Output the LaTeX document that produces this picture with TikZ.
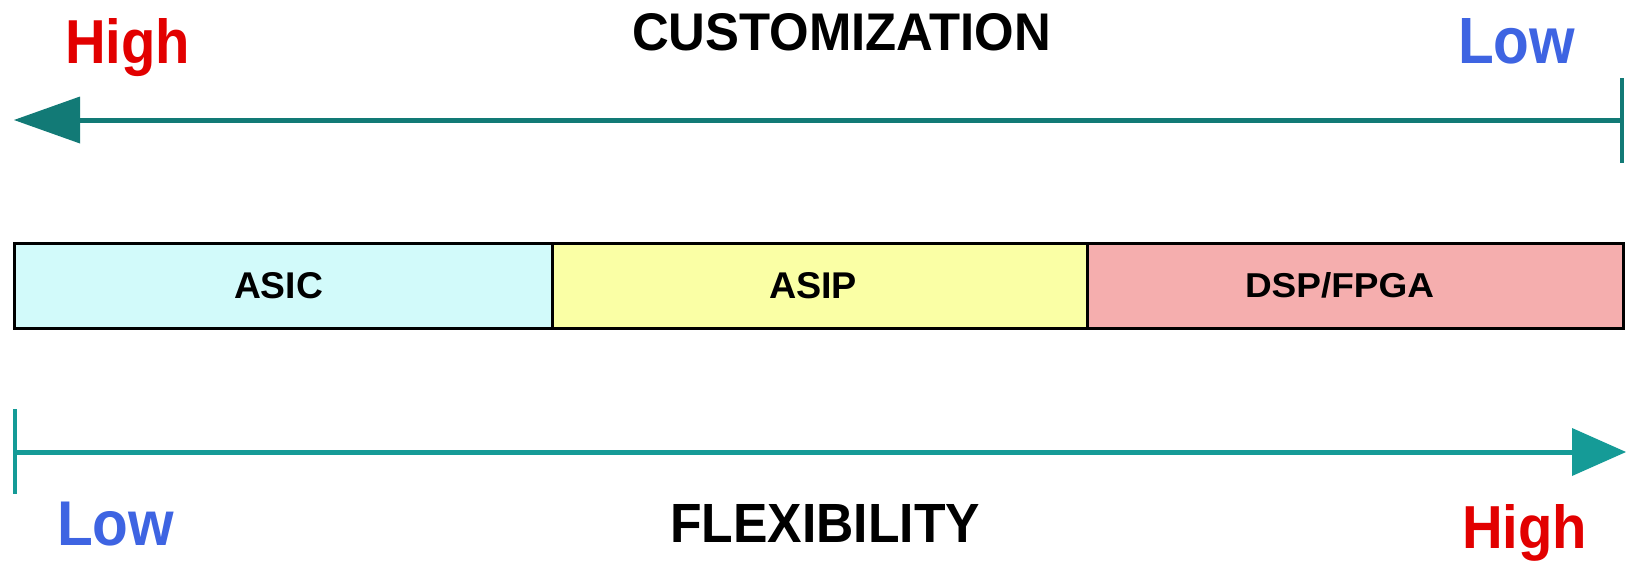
\documentclass[tikz,border=0pt]{standalone}
\usepackage{fontspec}
\setmainfont{Liberation Sans}
\usepackage{graphicx}
\definecolor{tealdark}{RGB}{18,122,118}
\definecolor{teallight}{RGB}{21,155,151}
\definecolor{hired}{RGB}{226,0,0}
\definecolor{loblue}{RGB}{62,100,226}
\definecolor{asicfill}{RGB}{210,250,250}
\definecolor{asipfill}{RGB}{250,255,165}
\definecolor{dspfill}{RGB}{245,174,174}
% bold word stretched to a given width and cap height (in pt)
\newcommand\fitword[3]{\resizebox{#1pt}{#2pt}{\bfseries #3}}
\begin{document}
\begin{tikzpicture}[x=1pt,y=1pt,
  word/.style={anchor=base west,inner sep=0pt,outer sep=0pt},
  cell/.style={draw=black,line width=3pt,rectangle,inner sep=0pt,minimum height=85pt},
  axis/.style={line width=5pt}]
\useasboundingbox (0,0) rectangle (1626,-560);

% customization axis (pointing left)
\coordinate (cTip) at (14,-120);
\coordinate (cBase) at (80,-120);
\coordinate (cEnd) at (1622,-120);
\coordinate (cEndT) at (1622,-78);
\coordinate (cEndB) at (1622,-163);
\draw[axis,tealdark] (cEnd) -- (cBase);
\draw[tealdark,line width=4.5pt] (cEndT) -- (cEndB);
\fill[tealdark] (cTip) -- ([yshift=23.5pt]cBase) -- ([yshift=-23.5pt]cBase) -- cycle;

% flexibility axis (pointing right)
\coordinate (fStart) at (15,-452);
\coordinate (fStartT) at (15,-409);
\coordinate (fStartB) at (15,-494);
\coordinate (fBase) at (1572,-452);
\coordinate (fTip) at (1626,-452);
\draw[axis,teallight] (fStart) -- (fBase);
\draw[teallight,line width=4.5pt] (fStartT) -- (fStartB);
\fill[teallight] (fTip) -- ([yshift=24pt]fBase) -- ([yshift=-24pt]fBase) -- cycle;

% implementation bar
\node[cell,fill=asicfill,minimum width=538pt] (asic) at (283,-285.5) {};
\node[cell,fill=asipfill,minimum width=535pt] (asip) at (819.5,-285.5) {};
\node[cell,fill=dspfill,minimum width=536pt] (dsp) at (1355,-285.5) {};
\node[word] (tAsic) at (234,-298) {\fitword{89}{26}{ASIC}};
\node[word] (tAsip) at (769,-298) {\fitword{88}{26}{ASIP}};
\node[word] (tDsp) at (1245,-297.5) {\fitword{189}{25}{DSP/FPGA}};

% axis labels
\node[word,text=hired] (hiTop) at (65,-63) {\fitword{125}{45}{High}};
\node[word,text=loblue] (loTop) at (1458,-63) {\fitword{117}{45}{Low}};
\node[word] (cust) at (632,-50.5) {\fitword{419}{37}{CUSTOMIZATION}};
\node[word,text=loblue] (loBot) at (57,-545) {\fitword{117}{43.5}{Low}};
\node[word,text=hired] (hiBot) at (1462,-548) {\fitword{125}{44}{High}};
\node[word] (flex) at (670,-542) {\fitword{310}{38}{FLEXIBILITY}};
\end{tikzpicture}
\end{document}
